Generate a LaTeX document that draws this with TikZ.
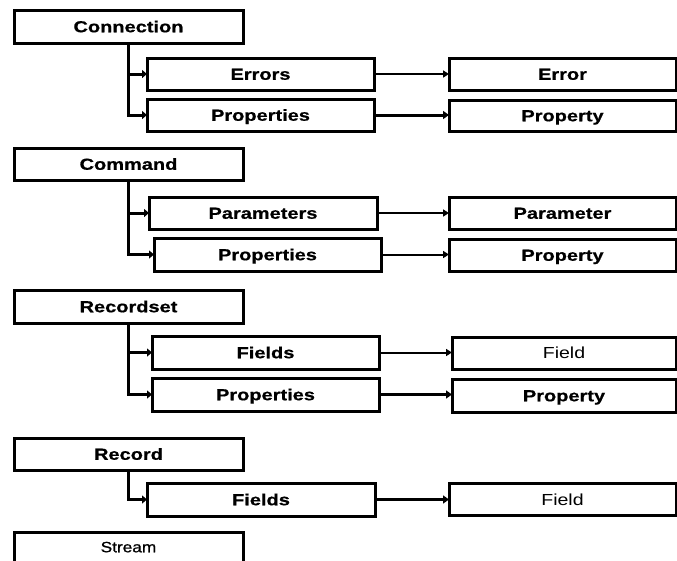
\documentclass[tikz,border=0pt]{standalone}
\usepackage{fontspec}
\usepackage{graphicx}
\setmainfont{Liberation Sans}
\newfontfamily\heavyfont{Liberation Sans}[UprightFont={* Bold}, FakeBold=0.6]
\newfontfamily\semifont{Liberation Sans}[FakeBold=0.8]
\usetikzlibrary{arrows.meta}
\newcommand{\bx}[1]{\scalebox{1.25}[1]{#1}}
\newcommand{\rx}[1]{\scalebox{1.22}[1]{#1}}
\tikzset{
  box/.style={draw=black, line width=3pt, fill=white, rectangle, inner sep=0pt, outer sep=0pt,
              text height=11.5pt, text depth=0pt},
  btext/.style={font=\heavyfont\fontsize{16}{18}\selectfont},
  rtext/.style={font=\fontsize{16}{18}\selectfont},
  stext/.style={font=\semifont\fontsize{15}{17}\selectfont},
  branch/.style={line width=3pt, -{Triangle[length=5pt,width=8pt]}},
  thinarrow/.style={line width=2pt, -{Triangle[length=6pt,width=7pt]}},
  thickarrow/.style={line width=3pt, -{Triangle[length=6pt,width=8pt]}},
}
\begin{document}
\begin{tikzpicture}[x=1pt,y=-1pt]
\useasboundingbox (0,0) rectangle (677,560);
\clip (0,0) rectangle (677,560);
\fill[white] (0,0) rectangle (677,560);

% Connection group
\node[box, btext, minimum width=229pt, minimum height=33pt] (conn) at (128.5,26.5) {\bx{Connection}};
\node[box, btext, minimum width=227pt, minimum height=32pt] (errs) at (260.5,74) {\bx{Errors}};
\node[box, btext, minimum width=227pt, minimum height=32pt] (cprops) at (260.5,115) {\bx{Properties}};
\node[box, btext, minimum width=227pt, minimum height=32pt] (err) at (562.5,74) {\bx{Error}};
\node[box, btext, minimum width=227pt, minimum height=31pt] (cprop) at (562.5,115.5) {\bx{Property}};

% Command group
\node[box, btext, minimum width=229pt, minimum height=32pt] (cmd) at (128.5,164) {\bx{Command}};
\node[box, btext, minimum width=228pt, minimum height=32pt] (params) at (263,213) {\bx{Parameters}};
\node[box, btext, minimum width=227pt, minimum height=33pt] (mprops) at (267.5,254.5) {\bx{Properties}};
\node[box, btext, minimum width=227pt, minimum height=32pt] (param) at (562.5,213) {\bx{Parameter}};
\node[box, btext, minimum width=227pt, minimum height=32pt] (mprop) at (562.5,255) {\bx{Property}};

% Recordset group
\node[box, btext, minimum width=229pt, minimum height=33pt] (rs) at (128.5,306.5) {\bx{Recordset}};
\node[box, btext, minimum width=227pt, minimum height=33pt] (flds) at (265.5,352.5) {\bx{Fields}};
\node[box, btext, minimum width=227pt, minimum height=33pt] (rprops) at (265.5,394.5) {\bx{Properties}};
\node[box, rtext, minimum width=224pt, minimum height=32pt] (fld) at (564,353) {\rx{Field}};
\node[box, btext, minimum width=224pt, minimum height=33pt] (rprop) at (564,395.5) {\bx{Property}};

% Record group
\node[box, btext, minimum width=229pt, minimum height=32pt] (rec) at (128.5,454) {\bx{Record}};
\node[box, btext, minimum width=228pt, minimum height=33pt] (rflds) at (261,499.5) {\bx{Fields}};
\node[box, rtext, minimum width=227pt, minimum height=32pt] (rfld) at (562.5,499.5) {\rx{Field}};

% Stream
\node[box, minimum width=229pt, minimum height=34pt, anchor=north] (strm) at (128.5,532) {};
\node[stext, text height=10.5pt, text depth=0pt, inner sep=0pt] (strmtxt) at (128.5,547) {\scalebox{1.15}[1]{Stream}};

% branches
\draw[branch] ([xshift=-0.5pt]conn.south) |- (errs.west);
\draw[branch] ([xshift=-0.5pt]conn.south) |- (cprops.west);
\draw[branch] ([xshift=-0.5pt]cmd.south) |- (params.west);
\draw[branch] ([xshift=-0.5pt]cmd.south) |- (mprops.west);
\draw[branch] ([xshift=-0.5pt]rs.south) |- (flds.west);
\draw[branch] ([xshift=-0.5pt]rs.south) |- (rprops.west);
\draw[branch] ([xshift=-0.5pt]rec.south) |- (rflds.west);

% collection -> item arrows
\draw[thinarrow] (errs.east) -- (errs.east -| err.west);
\draw[thickarrow] (cprops.east) -- (cprops.east -| cprop.west);
\draw[thinarrow] (params.east) -- (params.east -| param.west);
\draw[thinarrow] (mprops.east) -- (mprops.east -| mprop.west);
\draw[thinarrow] (flds.east) -- (flds.east -| fld.west);
\draw[thickarrow] (rprops.east) -- (rprops.east -| rprop.west);
\draw[thickarrow] (rflds.east) -- (rflds.east -| rfld.west);
\end{tikzpicture}
\end{document}
